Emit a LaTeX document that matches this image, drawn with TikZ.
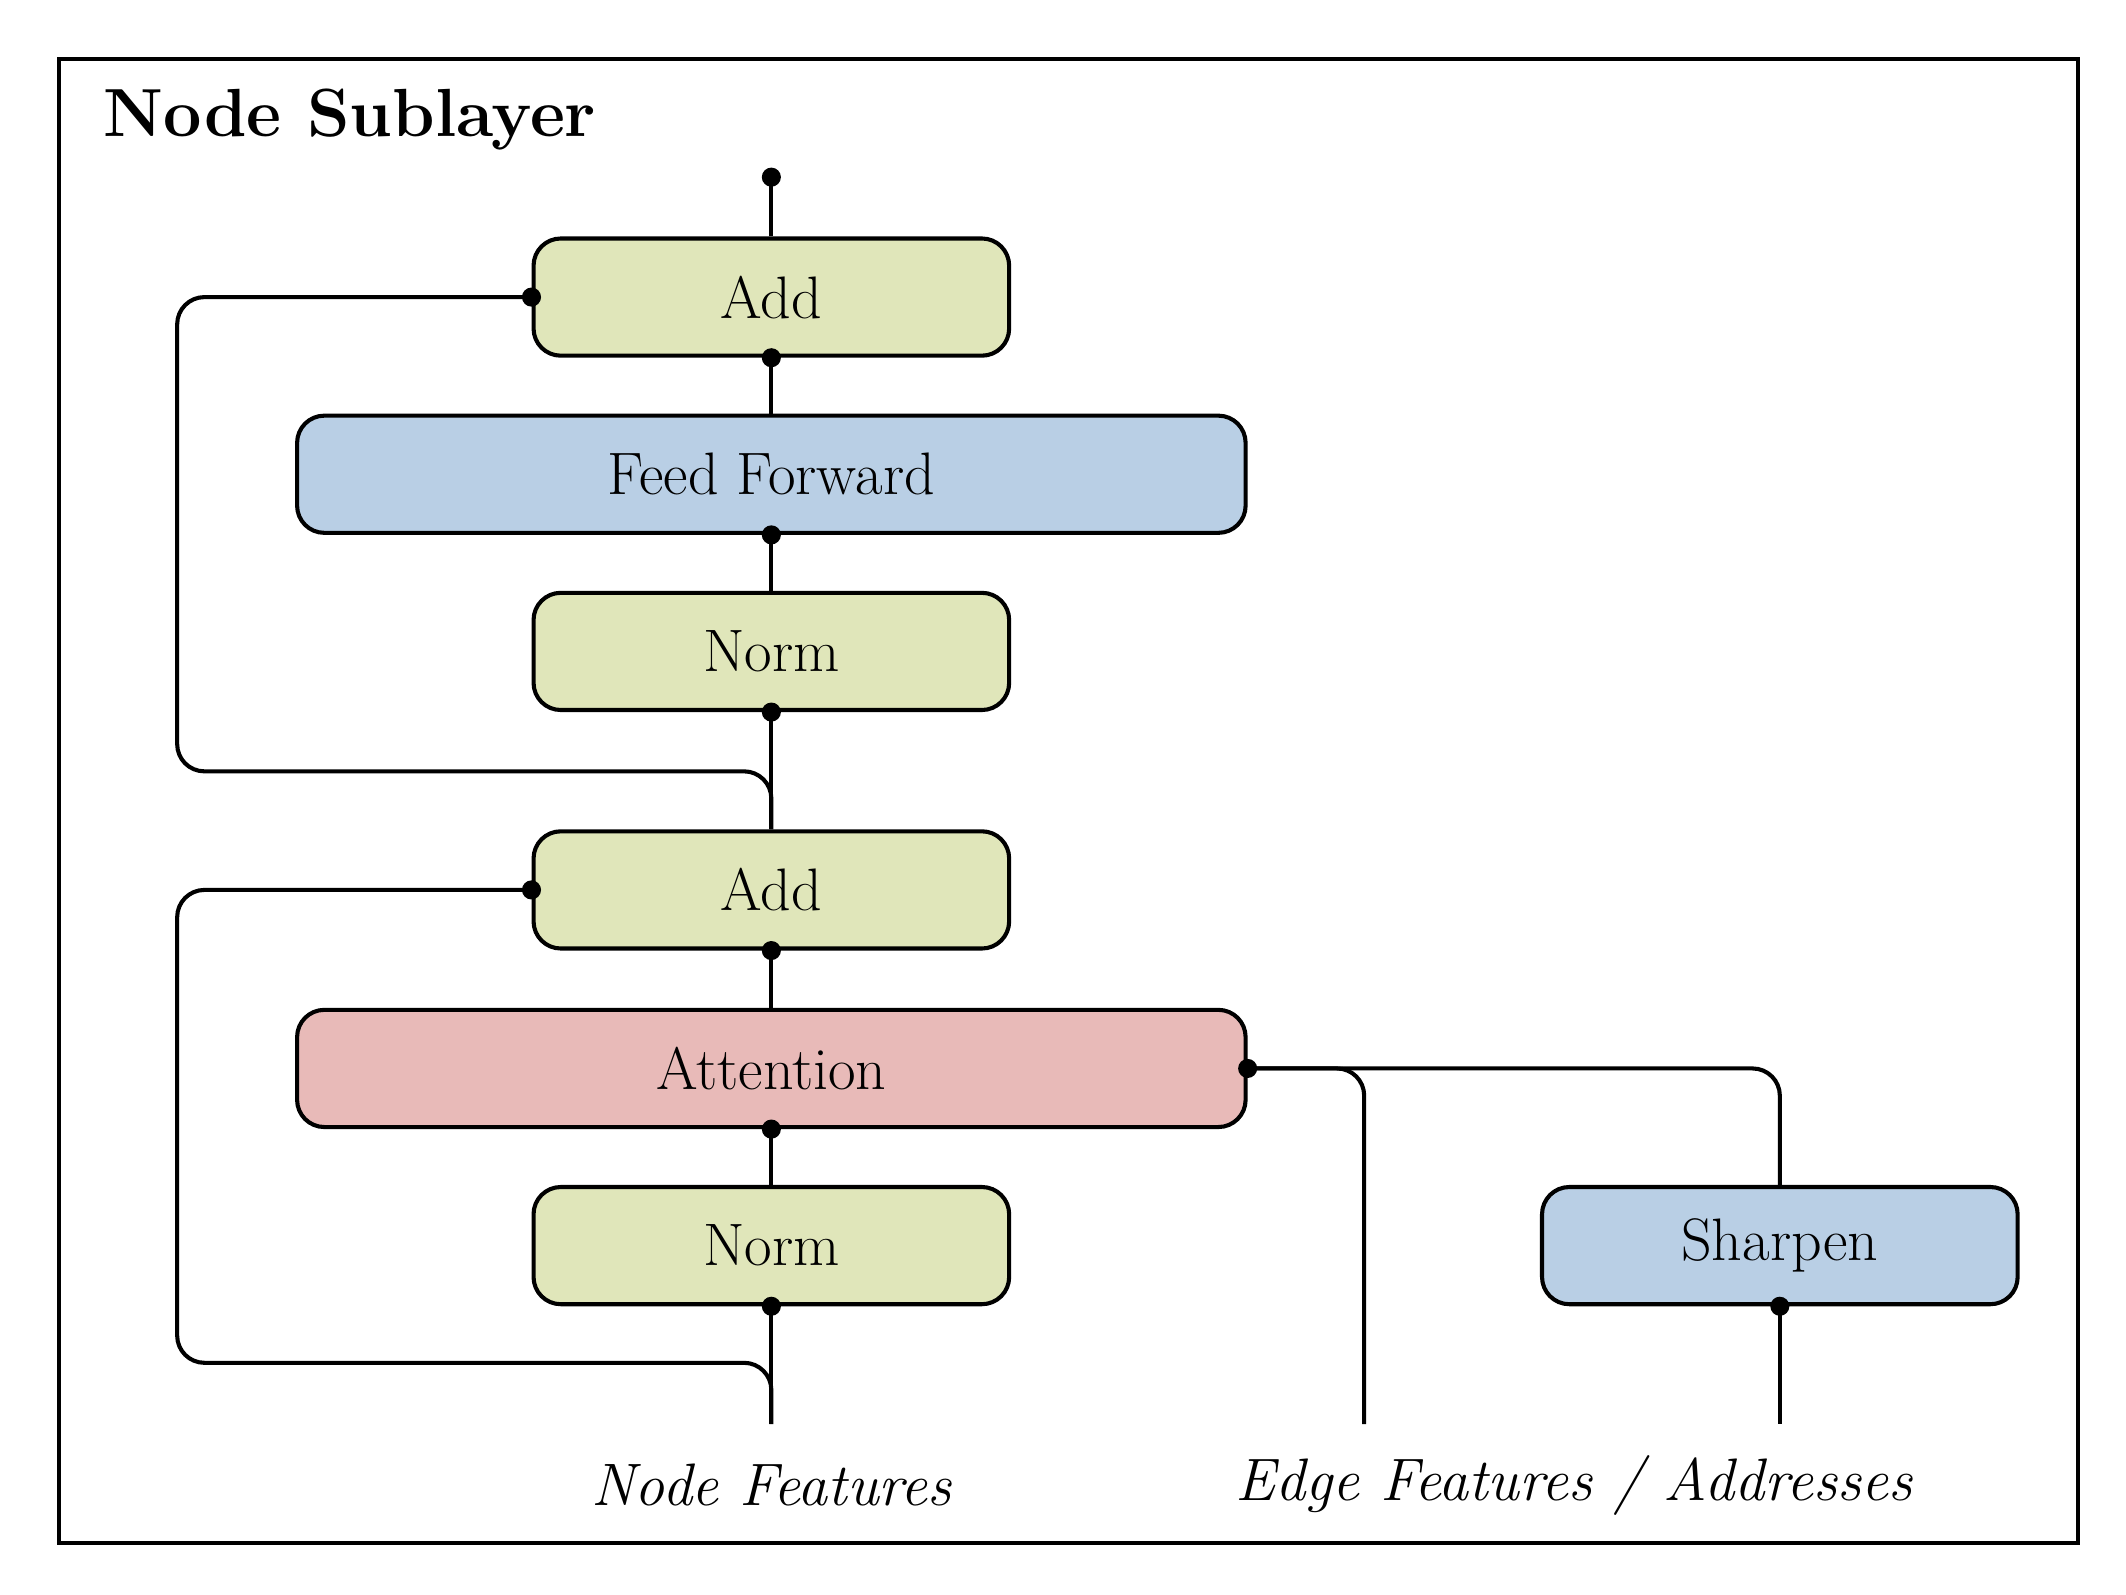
\documentclass[tikz,border=0pt]{standalone}
\begin{document}
\begin{tikzpicture}[x=0.5pt,y=-0.5pt,line width=1.5pt,
  box/.style={draw,rounded corners=10pt,minimum height=43pt,inner sep=0pt,font=\fontsize{22}{26}\selectfont},
  small/.style={box,minimum width=174.5pt},
  wide/.style={box,minimum width=348pt},
  dot/.style={circle,fill=black,inner sep=0pt,minimum size=7pt},
  lab/.style={font=\fontsize{22}{26}\selectfont\itshape},
  lp/.style={rounded corners=10pt}]
\definecolor{gr}{HTML}{E0E6BA}\definecolor{bl}{HTML}{B9CFE5}\definecolor{rd}{HTML}{E8BAB8}
\useasboundingbox (0,0) rectangle (1560,1170);
\draw (43,43) rectangle (1525,1132);
\node[anchor=west,font=\fontsize{25}{30}\selectfont\bfseries] (t) at (68,88) {Node Sublayer};
\node[small,fill=gr] (a1) at (566,218) {Add};
\node[wide,fill=bl] (ff) at (566,348) {Feed Forward};
\node[small,fill=gr] (n1) at (566,478) {Norm};
\node[small,fill=gr] (a2) at (566,653) {Add};
\node[wide,fill=rd] (at) at (566,784) {Attention};
\node[small,fill=gr] (n2) at (566,914) {Norm};
\node[small,fill=bl] (sh) at (1306,914) {Sharpen};
\coordinate (top) at (566,130);
\coordinate (nf) at (566,1045);
\coordinate (ef) at (1001,1045);
\coordinate (ad) at (1306,1045);
\node[lab] (l1) at (566,1090) {Node Features};
\node[lab] (l2) at (1155,1090) {Edge Features / Addresses};
\draw (a1.north) -- (top);
\draw (ff.north) -- (a1.south);
\draw (n1.north) -- (ff.south);
\draw (n1.south) -- (a2.north);
\draw (at.north) -- (a2.south);
\draw (n2.north) -- (at.south);
\draw (n2.south) -- (nf);
\draw (sh.south) -- (ad);
\draw[lp] (a1.west) -- (130,218) -- (130,566) -- (566,566) -- (a2.north);
\draw[lp] (a2.west) -- (130,653) -- (130,1000) -- (566,1000) -- (nf);
\draw[lp] (at.east) -- (1001,784) -- (ef);
\draw[lp] (at.east) -- (1306,784) -- (sh.north);
\foreach \p in {top,a1.west,a1.south,ff.south,n1.south,a2.west,a2.south,at.south,at.east,n2.south,sh.south}
  \node[dot] at (\p) {};
\end{tikzpicture}
\end{document}
